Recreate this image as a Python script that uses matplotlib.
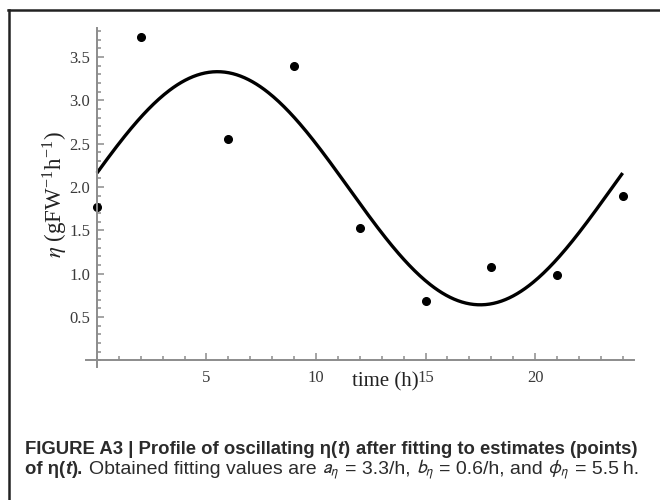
import numpy as np
import matplotlib
matplotlib.use('Agg')
import matplotlib.pyplot as plt
from matplotlib.lines import Line2D
from matplotlib.ticker import MultipleLocator

# measured points (time in h, eta in gFW^-1 h^-1)
t_points = [0, 2, 6, 9, 12, 15, 18, 21, 24]
eta_points = [1.77, 3.73, 2.55, 3.40, 1.53, 0.68, 1.08, 0.98, 1.90]

# fitted cosine: peak a, trough b, phase phi (h), period 24 h
a_eta = 3.33
b_eta = 0.64
phi_eta = 5.5
period = 24.0

x_ticks = [5, 10, 15, 20]
y_ticks = [0.5, 1.0, 1.5, 2.0, 2.5, 3.0, 3.5]
y_ticklabels = ['0.5', '1.0', '1.5', '2.0', '2.5', '3.0', '3.5']

plt.rcParams['font.family'] = ['Liberation Serif', 'DejaVu Serif']
plt.rcParams['mathtext.fontset'] = 'stix'

fig = plt.figure(figsize=(6.6, 5.0), dpi=100)
ax = fig.add_axes([0.1303, 0.2656, 0.8297, 0.6794])

t_fit = np.linspace(0, 24, 400)
eta_fit = b_eta + (a_eta - b_eta) * (1 + np.cos(2 * np.pi * (t_fit - phi_eta) / period)) / 2
ax.plot(t_fit, eta_fit, color='black', lw=2.4, solid_capstyle='butt')
ax.plot(t_points, eta_points, 'o', color='black', ms=5.5)

ax.set_xlim(-0.5, 24.5)
ax.set_ylim(-0.08, 3.84)
axis_col = '#8c8c8c'
for s in ['top', 'right']:
    ax.spines[s].set_visible(False)
ax.spines['left'].set_position(('data', 0))
ax.spines['bottom'].set_position(('data', 0))
for s in ['left', 'bottom']:
    ax.spines[s].set_color(axis_col)
    ax.spines[s].set_linewidth(1.4)

ax.set_xticks(x_ticks)
ax.set_xticklabels([str(v) for v in x_ticks])
ax.set_yticks(y_ticks)
ax.set_yticklabels(y_ticklabels)
ax.xaxis.set_minor_locator(MultipleLocator(1))
ax.yaxis.set_minor_locator(MultipleLocator(0.1))
ax.tick_params(which='both', direction='in', color=axis_col, width=1.1,
               labelsize=12, labelcolor='#3a3a3a')
ax.tick_params(which='major', length=5)
ax.tick_params(which='minor', length=3)
ax.tick_params(axis='x', pad=7)
ax.tick_params(axis='y', pad=5)

fig.text(385 / 660, 1 - 382 / 500, 'time (h)', ha='center', va='center',
         fontsize=15, color='#222222')
fig.text(55 / 660, 1 - 195 / 500, r'$\eta$ (gFW$^{\mathregular{-1}}$h$^{\mathregular{-1}}$)',
         rotation=90, ha='center', va='center', fontsize=16.5, color='#222222')

# frame lines (left and top)
fig.add_artist(Line2D([9 / 660, 9 / 660], [0, 1 - 10 / 500], transform=fig.transFigure,
                      color='#222222', lw=1.8))
fig.add_artist(Line2D([8 / 660, 1], [1 - 10 / 500, 1 - 10 / 500], transform=fig.transFigure,
                      color='#222222', lw=1.8))

# caption
cap_col = '#2b2b2b'
renderer = fig.canvas.get_renderer()


def put_runs(x_px, y_px, runs):
    for s, props, gap in runs:
        size = 13.3 if props.get('fontweight') == 'bold' else 14.0
        t = fig.text(x_px / 660, 1 - y_px / 500, s, va='baseline', ha='left',
                     fontsize=size, color=cap_col, family='Liberation Sans',
                     math_fontfamily='stixsans', **props)
        x_px += t.get_window_extent(renderer).width + gap


B = {'fontweight': 'bold'}
BI = {'fontweight': 'bold', 'fontstyle': 'italic'}
R = {}
sp = 4.3
put_runs(25, 454, [
    ('FIGURE A3 | Profile of oscillating η(', B, 0.5),
    ('t', BI, 0.5),
    (')', B, sp + 1.5),
    ('after fitting to estimates (points)', B, 0),
])
put_runs(25, 474, [
    ('of η(', B, 0.5),
    ('t', BI, 0.5),
    (').', B, sp + 1.5),
    ('Obtained fitting values are', R, sp + 1),
    (r'$a_\eta$', R, sp + 1),
    ('= 3.3/h,', R, sp + 1),
    (r'$b_\eta$', R, sp + 1),
    ('= 0.6/h, and', R, sp + 1),
    (r'$\phi_\eta$', R, sp + 1),
    ('= 5.5\u2009h.', R, 0),
])

fig.savefig('out.png', dpi=100)
